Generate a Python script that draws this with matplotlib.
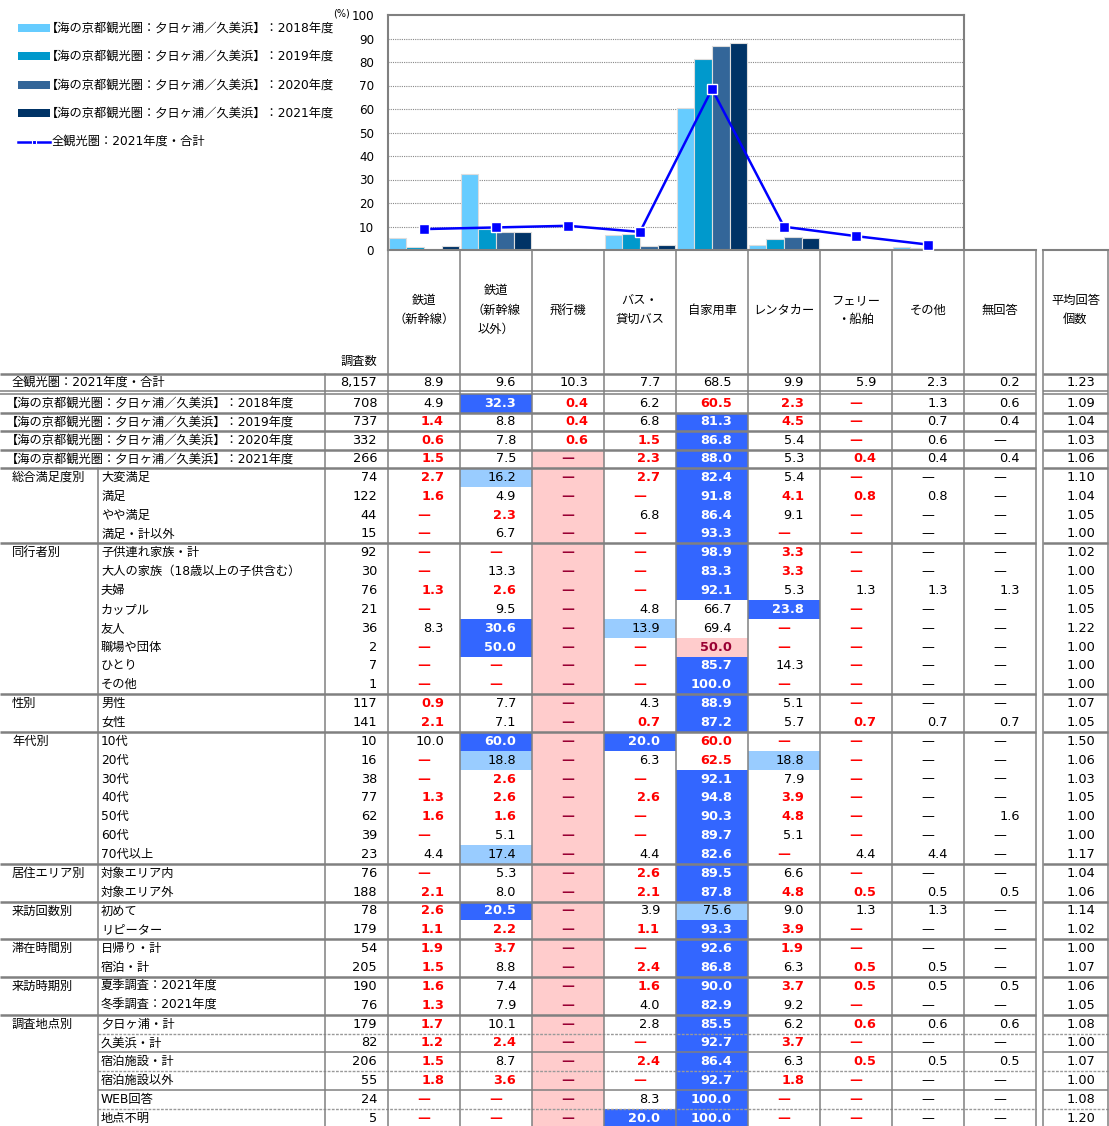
import matplotlib.pyplot as plt
from matplotlib.patches import Rectangle
import numpy as np

plt.rcParams['font.family'] = ['DejaVu Sans', 'Noto Sans CJK JP']

W, H = 1109, 1126

# ---- data ----
mode_headers = [["鉄道", "（新幹線）"], ["鉄道", "（新幹線", "以外）"], ["飛行機"],
                ["バス・", "貸切バス"], ["自家用車"], ["レンタカー"],
                ["フェリー", "・船舶"], ["その他"], ["無回答"]]
avg_header = ["平均回答", "個数"]

series_labels = ["【海の京都観光圏：夕日ヶ浦／久美浜】：2018年度",
                 "【海の京都観光圏：夕日ヶ浦／久美浜】：2019年度",
                 "【海の京都観光圏：夕日ヶ浦／久美浜】：2020年度",
                 "【海の京都観光圏：夕日ヶ浦／久美浜】：2021年度"]
series_colors = ["#66CCFF", "#0099CC", "#336699", "#003366"]
line_label = "全観光圏：2021年度・合計"

top_labels = [line_label] + series_labels

group_names = ["総合満足度別", "同行者別", "性別", "年代別", "居住エリア別",
               "来訪回数別", "滞在時間別", "来訪時期別", "調査地点別"]
group_sizes = [4, 8, 2, 7, 2, 2, 2, 2, 6]
sub_labels = ["大変満足", "満足", "やや満足", "満足・計以外",
              "子供連れ家族・計", "大人の家族（18歳以上の子供含む）", "夫婦", "カップル",
              "友人", "職場や団体", "ひとり", "その他",
              "男性", "女性",
              "10代", "20代", "30代", "40代", "50代", "60代", "70代以上",
              "対象エリア内", "対象エリア外",
              "初めて", "リピーター",
              "日帰り・計", "宿泊・計",
              "夏季調査：2021年度", "冬季調査：2021年度",
              "夕日ヶ浦・計", "久美浜・計", "宿泊施設・計", "宿泊施設以外", "WEB回答", "地点不明"]

n_resp = [8157, 708, 737, 332, 266, 74, 122, 44, 15, 92, 30, 76, 21, 36, 2, 7, 1,
          117, 141, 10, 16, 38, 77, 62, 39, 23, 76, 188, 78, 179, 54, 205, 190, 76,
          179, 82, 206, 55, 24, 5]

shinkansen = [8.9, 4.9, 1.4, 0.6, 1.5, 2.7, 1.6, 0, 0, 0, 0, 1.3, 0, 8.3, 0, 0, 0,
              0.9, 2.1, 10.0, 0, 0, 1.3, 1.6, 0, 4.4, 0, 2.1, 2.6, 1.1, 1.9, 1.5, 1.6, 1.3,
              1.7, 1.2, 1.5, 1.8, 0, 0]
rail_other = [9.6, 32.3, 8.8, 7.8, 7.5, 16.2, 4.9, 2.3, 6.7, 0, 13.3, 2.6, 9.5, 30.6, 50.0, 0, 0,
              7.7, 7.1, 60.0, 18.8, 2.6, 2.6, 1.6, 5.1, 17.4, 5.3, 8.0, 20.5, 2.2, 3.7, 8.8, 7.4, 7.9,
              10.1, 2.4, 8.7, 3.6, 0, 0]
airplane = [10.3, 0.4, 0.4, 0.6, 0, 0, 0, 0, 0, 0, 0, 0, 0, 0, 0, 0, 0,
            0, 0, 0, 0, 0, 0, 0, 0, 0, 0, 0, 0, 0, 0, 0, 0, 0,
            0, 0, 0, 0, 0, 0]
bus = [7.7, 6.2, 6.8, 1.5, 2.3, 2.7, 0, 6.8, 0, 0, 0, 0, 4.8, 13.9, 0, 0, 0,
       4.3, 0.7, 20.0, 6.3, 0, 2.6, 0, 0, 4.4, 2.6, 2.1, 3.9, 1.1, 0, 2.4, 1.6, 4.0,
       2.8, 0, 2.4, 0, 8.3, 20.0]
car = [68.5, 60.5, 81.3, 86.8, 88.0, 82.4, 91.8, 86.4, 93.3, 98.9, 83.3, 92.1, 66.7, 69.4, 50.0, 85.7, 100.0,
       88.9, 87.2, 60.0, 62.5, 92.1, 94.8, 90.3, 89.7, 82.6, 89.5, 87.8, 75.6, 93.3, 92.6, 86.8, 90.0, 82.9,
       85.5, 92.7, 86.4, 92.7, 100.0, 100.0]
rental = [9.9, 2.3, 4.5, 5.4, 5.3, 5.4, 4.1, 9.1, 0, 3.3, 3.3, 5.3, 23.8, 0, 0, 14.3, 0,
          5.1, 5.7, 0, 18.8, 7.9, 3.9, 4.8, 5.1, 0, 6.6, 4.8, 9.0, 3.9, 1.9, 6.3, 3.7, 9.2,
          6.2, 3.7, 6.3, 1.8, 0, 0]
ferry = [5.9, 0, 0, 0, 0.4, 0, 0.8, 0, 0, 0, 0, 1.3, 0, 0, 0, 0, 0,
         0, 0.7, 0, 0, 0, 0, 0, 0, 4.4, 0, 0.5, 1.3, 0, 0, 0.5, 0.5, 0,
         0.6, 0, 0.5, 0, 0, 0]
other = [2.3, 1.3, 0.7, 0.6, 0.4, 0, 0.8, 0, 0, 0, 0, 1.3, 0, 0, 0, 0, 0,
         0, 0.7, 0, 0, 0, 0, 0, 0, 4.4, 0, 0.5, 1.3, 0, 0, 0.5, 0.5, 0,
         0.6, 0, 0.5, 0, 0, 0]
no_answer = [0.2, 0.6, 0.4, 0, 0.4, 0, 0, 0, 0, 0, 0, 1.3, 0, 0, 0, 0, 0,
             0, 0.7, 0, 0, 0, 0, 1.6, 0, 0, 0, 0.5, 0, 0, 0, 0, 0.5, 0,
             0.6, 0, 0.5, 0, 0, 0]
avg_count = [1.23, 1.09, 1.04, 1.03, 1.06, 1.10, 1.04, 1.05, 1.00, 1.02, 1.00, 1.05, 1.05, 1.22, 1.00, 1.00, 1.00,
             1.07, 1.05, 1.50, 1.06, 1.03, 1.05, 1.00, 1.00, 1.17, 1.04, 1.06, 1.14, 1.02, 1.00, 1.07, 1.06, 1.05,
             1.08, 1.00, 1.07, 1.00, 1.08, 1.20]

columns = [shinkansen, rail_other, airplane, bus, car, rental, ferry, other, no_answer]
n_chart = 8  # chart covers the first 8 modes

# ---- style ----
GRAY = "#808080"
BLUE_DARK = "#3366FF"
BLUE_LIGHT = "#99CCFF"
PINK = "#FFCCCC"
RED = "#FF0000"
WINE = "#990033"
FS_TXT = 8.8
FS_NUM = 9.3


def cell_style(v, base):
    d = v - base
    if d >= 10:
        return 'B'
    if d >= 5:
        return 'L'
    if d <= -10:
        return 'P'
    if d <= -5:
        return 'r'
    return 'n'


fig = plt.figure(figsize=(W / 100, H / 100), dpi=100)
tab = fig.add_axes([0, 0, 1, 1])
tab.set_xlim(0, W)
tab.set_ylim(H, 0)
tab.axis('off')

# row geometry (pixels)
row_top = [374, 394, 412.5, 431, 449.5]
row_bot = [391, 412.5, 431, 449.5, 468]
ROW_H = 18.85
for i in range(sum(group_sizes)):
    row_top.append(468 + i * ROW_H)
    row_bot.append(468 + (i + 1) * ROW_H)

col_left = [388 + 72 * i for i in range(9)]
CW = 72
AVG_L, AVG_R = 1043, 1108

# ---- cells ----
for r in range(len(n_resp)):
    top, bot = row_top[r], row_bot[r]
    yc = (top + bot) / 2
    for c, col in enumerate(columns):
        v = col[r]
        st = cell_style(v, col[0]) if c < 8 else 'n'
        xl = col_left[c]
        if st in ('B', 'L', 'P'):
            fc = {'B': BLUE_DARK, 'L': BLUE_LIGHT, 'P': PINK}[st]
            tab.add_patch(Rectangle((xl, top), CW, bot - top, facecolor=fc,
                                    edgecolor='none', zorder=1))
        color = {'B': 'white', 'L': 'black', 'P': WINE, 'r': RED, 'n': 'black'}[st]
        weight = 'bold' if st in ('B', 'P', 'r') else 'normal'
        if v == 0:
            tab.text(xl + CW / 2, yc, "—", ha='center', va='center', fontsize=FS_NUM,
                     color=color, fontweight=weight, family='DejaVu Sans', zorder=4)
        else:
            tab.text(xl + CW - 16, yc, f"{v:.1f}", ha='right', va='center', fontsize=FS_NUM,
                     color=color, fontweight=weight, zorder=4)
    tab.text(377, yc, f"{n_resp[r]:,}", ha='right', va='center', fontsize=FS_NUM, zorder=4)
    tab.text(1095, yc, f"{avg_count[r]:.2f}", ha='right', va='center', fontsize=FS_NUM, zorder=4)

# row labels
for r, lab in enumerate(top_labels):
    x0 = 12 if r == 0 else 6
    tab.text(x0, (row_top[r] + row_bot[r]) / 2, lab, ha='left', va='center', fontsize=FS_TXT)
k = 5
for g, name in enumerate(group_names):
    tab.text(12, (row_top[k] + row_bot[k]) / 2, name, ha='left', va='center', fontsize=FS_TXT)
    for j in range(group_sizes[g]):
        r = k + j
        tab.text(101, (row_top[r] + row_bot[r]) / 2, sub_labels[r - 5], ha='left',
                 va='center', fontsize=FS_TXT)
    k += group_sizes[g]

# headers
for c, lines in enumerate(mode_headers):
    xc = col_left[c] + CW / 2
    n = len(lines)
    for j, t in enumerate(lines):
        tab.text(xc, 310 + (j - (n - 1) / 2) * 19.5, t, ha='center', va='center', fontsize=FS_TXT)
for j, t in enumerate(avg_header):
    tab.text((AVG_L + AVG_R) / 2, 310 + (j - 0.5) * 19.5, t, ha='center', va='center', fontsize=FS_TXT)
tab.text(377, 361, "調査数", ha='right', va='center', fontsize=FS_TXT)


# ---- grid lines ----
def hline(y, x0, lw, ls='-', color=GRAY):
    tab.plot([x0, 1036], [y, y], color=color, lw=lw, ls=ls, zorder=3, solid_capstyle='butt')
    tab.plot([AVG_L, AVG_R], [y, y], color=color, lw=lw, ls=ls, zorder=3, solid_capstyle='butt')


THICK = 1.8
THIN = 1.1
hline(374, 0, THICK)
hline(391, 0, 1.1)
hline(394, 0, 1.1)
for y in row_bot[1:5]:
    hline(y, 0, THICK)
k = 5
for g, size in enumerate(group_sizes):
    if g > 0:
        hline(row_top[k], 0, THICK)
    if group_names[g] == "調査地点別":
        for j in range(size - 1):
            y = row_bot[k + j]
            if j % 2 == 0:
                hline(y, 98, 1.0, ls=(0, (2, 1)), color="#999999")
            else:
                hline(y, 98, THIN)
    k += size

# vertical lines
bottom = H + 5
for x in col_left + [1036, AVG_L, AVG_R]:
    tab.plot([x, x], [250, bottom], color=GRAY, lw=1.1, zorder=3)
tab.plot([325, 325], [374, bottom], color=GRAY, lw=1.1, zorder=3)
tab.plot([98, 98], [468, bottom], color=GRAY, lw=1.1, zorder=3)
tab.plot([964, 1036], [250, 250], color=GRAY, lw=1.5, zorder=3)
tab.plot([AVG_L, AVG_R], [250, 250], color=GRAY, lw=1.5, zorder=3)

# ---- legend ----
leg_y = [28, 56.4, 84.8, 113.2]
for y, lab, col in zip(leg_y, series_labels, series_colors):
    tab.add_patch(Rectangle((18, y - 4), 32, 8, facecolor=col, edgecolor='none'))
    tab.text(46, y, lab, ha='left', va='center', fontsize=FS_TXT)
tab.plot([18, 50], [141.6, 141.6], color='#0000FF', lw=1.8, zorder=3)
tab.plot([34], [141.6], marker='s', ms=3, mfc='#0000FF', mec='white', mew=0.8, zorder=4)
tab.text(52, 141.6, line_label, ha='left', va='center', fontsize=FS_TXT)
tab.text(350, 14, "(%)", ha='right', va='center', fontsize=7)

# ---- chart ----
ax = fig.add_axes([388 / W, 1 - 250 / H, 576 / W, 235 / H])
ax.set_facecolor('none')
x = np.arange(n_chart)
bw = 0.245
for i in range(4):
    vals = [col[i + 1] for col in columns[:n_chart]]
    ax.bar(x + (i - 1.5) * bw, vals, width=bw, color=series_colors[i],
           edgecolor='#dddddd', linewidth=0.8, zorder=2)
overall = [col[0] for col in columns[:n_chart]]
ax.plot(x, overall, color='#0000FF', lw=1.8, marker='s', ms=6.5, mfc='#0000FF',
        mec='white', mew=1, zorder=3)
for v in range(10, 100, 10):
    ax.axhline(v, color='#888888', lw=0.8, ls=(0, (1, 1)), zorder=0.5)
ax.set_xlim(-0.5, n_chart - 0.5)
ax.set_ylim(0, 100)
ax.set_xticks([])
ax.set_yticks(np.arange(0, 101, 10))
ax.tick_params(axis='y', length=0, pad=10, labelsize=8.6)
for s in ax.spines.values():
    s.set_color(GRAY)
    s.set_linewidth(1.5)

fig.savefig("out.png", dpi=100)
